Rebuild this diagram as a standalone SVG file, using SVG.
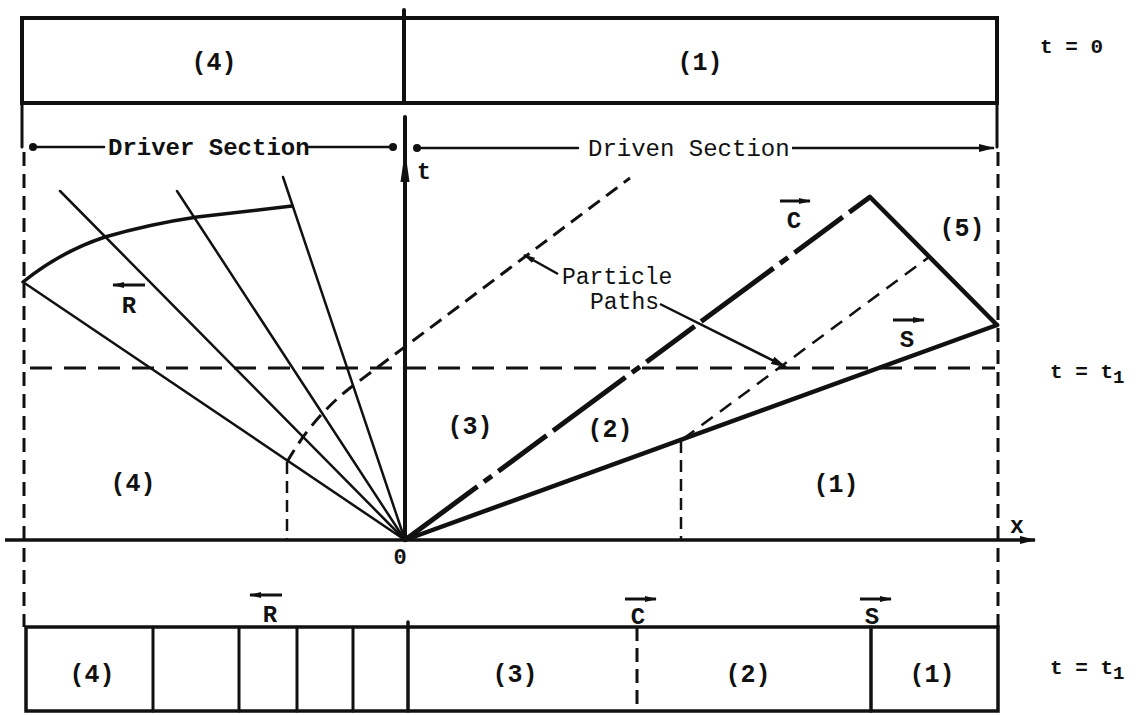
<svg xmlns="http://www.w3.org/2000/svg" width="1137" height="715" viewBox="0 0 1137 715">
<defs>
<style>
.t{font-family:"Liberation Mono","DejaVu Sans Mono",monospace;font-weight:bold;fill:#111;}
.lab{font-size:25px;text-anchor:middle;}
.side{font-size:21px;}
.thin{font-weight:normal;}
.box{fill:none;stroke:#111;stroke-width:4;}
.solid{fill:none;stroke:#111;stroke-linecap:round;}
.dash{fill:none;stroke:#111;stroke-width:3;stroke-dasharray:14 8;}
.hdash{fill:none;stroke:#111;stroke-width:3;stroke-dasharray:22 12;}
</style>
<marker id="ah" viewBox="0 0 12 6" refX="11" refY="3" markerWidth="12" markerHeight="6" markerUnits="userSpaceOnUse" orient="auto">
<path d="M0,0 L12,3 L0,6 Z" fill="#111"/>
</marker>
<marker id="ahb" viewBox="0 0 16 8" refX="15" refY="4" markerWidth="16" markerHeight="8" markerUnits="userSpaceOnUse" orient="auto">
<path d="M0,0 L16,4 L0,8 Z" fill="#111"/>
</marker>
</defs>
<rect width="1137" height="715" fill="#fff"/>

<g id="top-box">
<rect class="box" x="22" y="18" width="975" height="85"/>
<line class="solid" x1="404" y1="10" x2="404" y2="103" stroke-width="4"/>
<text class="t lab" x="214" y="70">(4)</text>
<text class="t lab" x="700" y="70">(1)</text>
</g>
<text id="label-t0" class="t side" x="1040" y="53">t = 0</text>

<g id="dimension">
<line class="solid" x1="22" y1="103" x2="22" y2="147" stroke-width="3"/>
<line class="solid" x1="997" y1="103" x2="997" y2="147" stroke-width="3"/>
<line class="solid" x1="33" y1="147" x2="104" y2="147" stroke-width="2.5"/>
<line class="solid" x1="309" y1="147" x2="393" y2="147" stroke-width="2.5"/>
<circle cx="33" cy="147" r="4" fill="#111"/>
<circle cx="393" cy="147" r="4" fill="#111"/>
<text class="t" x="108" y="155" font-size="24">Driver Section</text>
<line class="solid" x1="417" y1="148" x2="578" y2="148" stroke-width="2.5"/>
<circle cx="417" cy="148" r="4" fill="#111"/>
<text class="t thin" x="588" y="156" font-size="24">Driven Section</text>
<line x1="792" y1="148" x2="994" y2="148" stroke="#111" stroke-width="2.5" marker-end="url(#ahb)"/>
</g>

<g id="frame-dashed">
<line class="dash" x1="24" y1="152" x2="24" y2="627"/>
<line class="dash" x1="998" y1="152" x2="998" y2="627"/>
<line class="hdash" x1="30" y1="368" x2="995" y2="368"/>
</g>

<g id="axes">
<line class="solid" x1="405" y1="117" x2="405" y2="540" stroke-width="4"/>
<path d="M405,150 L409.5,182 L400.5,182 Z" fill="#111"/>
<text class="t" x="417" y="179" font-size="23">t</text>
<line x1="5" y1="540" x2="1035" y2="540" stroke="#111" stroke-width="3.5" marker-end="url(#ahb)"/>
<text class="t" x="1010" y="533" font-size="23">x</text>
<text class="t" x="400" y="564" font-size="22" text-anchor="middle">0</text>
</g>

<g id="rarefaction-fan">
<line class="solid" x1="23" y1="282" x2="405" y2="540" stroke-width="2.5"/>
<line class="solid" x1="60" y1="191" x2="405" y2="540" stroke-width="2.5"/>
<line class="solid" x1="177" y1="191" x2="405" y2="540" stroke-width="2.5"/>
<line class="solid" x1="283" y1="177" x2="405" y2="540" stroke-width="2.5"/>
<path class="solid" d="M23,282 Q60,252 105,237 Q150,224 197,217 L292,206" stroke-width="3.5"/>
<line x1="145" y1="285" x2="113" y2="285" stroke="#111" stroke-width="3" marker-end="url(#ah)"/>
<text class="t" x="129" y="313" font-size="24" text-anchor="middle">R</text>
</g>

<g id="waves">
<line x1="405" y1="540" x2="870" y2="197" stroke="#111" stroke-width="5" stroke-dasharray="90 8 10 8 60 8"/>
<line class="solid" x1="870" y1="197" x2="997" y2="325" stroke-width="4.5"/>
<line class="solid" x1="405" y1="540" x2="997" y2="325" stroke-width="4.5"/>
<line x1="780" y1="201" x2="810" y2="201" stroke="#111" stroke-width="3" marker-end="url(#ah)"/>
<text class="t" x="794" y="228" font-size="24" text-anchor="middle">C</text>
<line x1="893" y1="320" x2="924" y2="320" stroke="#111" stroke-width="3" marker-end="url(#ah)"/>
<text class="t" x="907" y="347" font-size="24" text-anchor="middle">S</text>
</g>

<g id="particle-paths">
<path class="dash" d="M287,462 Q312,418 350,388 L630,178"/>
<line x1="287" y1="462" x2="287" y2="540" stroke="#111" stroke-width="2.5" stroke-dasharray="12 7"/>
<line x1="683" y1="439" x2="929" y2="257" stroke="#111" stroke-width="2.5" stroke-dasharray="14 9"/>
<line x1="681" y1="441" x2="681" y2="540" stroke="#111" stroke-width="2.5" stroke-dasharray="12 7"/>
<text class="t thin" x="562" y="284" font-size="23">Particle</text>
<text class="t thin" x="590" y="309" font-size="23">Paths</text>
<line x1="558" y1="274" x2="524" y2="255" stroke="#111" stroke-width="2.5" marker-end="url(#ah)"/>
<line x1="660" y1="304" x2="786" y2="367" stroke="#111" stroke-width="2.5" marker-end="url(#ahb)"/>
</g>

<g id="region-labels">
<text class="t lab" x="133" y="491">(4)</text>
<text class="t lab" x="470" y="434">(3)</text>
<text class="t lab" x="610" y="437">(2)</text>
<text class="t lab" x="836" y="492">(1)</text>
<text class="t lab" x="962" y="236">(5)</text>
</g>
<text id="label-t1" class="t side" x="1050" y="378">t = t<tspan font-size="19" dy="5">1</tspan></text>

<g id="bottom-box">
<rect x="26" y="627" width="972" height="84" fill="none" stroke="#111" stroke-width="3.5"/>
<line class="solid" x1="153" y1="627" x2="153" y2="711" stroke-width="3"/>
<line class="solid" x1="239" y1="627" x2="239" y2="711" stroke-width="3"/>
<line class="solid" x1="297" y1="627" x2="297" y2="711" stroke-width="3"/>
<line class="solid" x1="353" y1="627" x2="353" y2="711" stroke-width="3"/>
<line class="solid" x1="408" y1="622" x2="408" y2="711" stroke-width="3.5"/>
<line x1="637" y1="627" x2="637" y2="711" stroke="#111" stroke-width="3" stroke-dasharray="14 7"/>
<line class="solid" x1="871" y1="627" x2="871" y2="711" stroke-width="3.5"/>
<text class="t lab" x="92" y="682">(4)</text>
<text class="t lab" x="515" y="682">(3)</text>
<text class="t lab" x="748" y="682">(2)</text>
<text class="t lab" x="932" y="682">(1)</text>
<line x1="282" y1="595" x2="250" y2="595" stroke="#111" stroke-width="3" marker-end="url(#ah)"/>
<text class="t" x="270" y="622" font-size="24" text-anchor="middle">R</text>
<line x1="625" y1="599" x2="656" y2="599" stroke="#111" stroke-width="3" marker-end="url(#ah)"/>
<text class="t" x="638" y="624" font-size="24" text-anchor="middle">C</text>
<line x1="860" y1="599" x2="891" y2="599" stroke="#111" stroke-width="3" marker-end="url(#ah)"/>
<text class="t" x="872" y="624" font-size="24" text-anchor="middle">S</text>
</g>
<text id="label-t1-bottom" class="t side" x="1050" y="674">t = t<tspan font-size="19" dy="5">1</tspan></text>
</svg>
